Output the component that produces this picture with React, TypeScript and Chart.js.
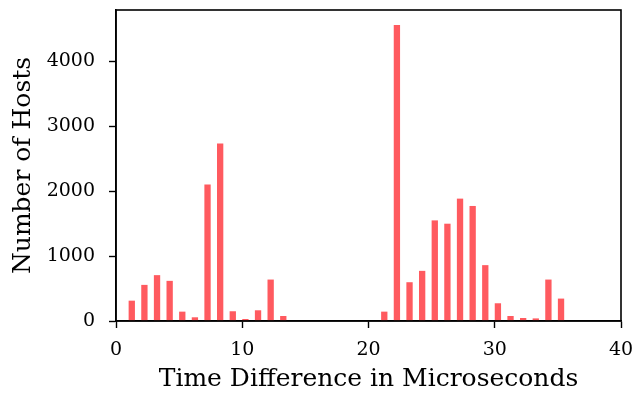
import React, { useEffect, useRef } from "react";
import { Chart, registerables } from "chart.js";

Chart.register(...registerables);

const positions = [1, 2, 3, 4, 5, 6, 7, 8, 9, 10, 11, 12, 13, 21, 22, 23, 24, 25, 26, 27, 28, 29, 30, 31, 32, 33, 34, 35];
const hosts = [313, 556, 706, 618, 144, 57, 2100, 2734, 150, 31, 165, 638, 77, 144, 4556, 597, 772, 1549, 1498, 1884, 1771, 860, 273, 77, 46, 40, 638, 345];
const xTicks = [0, 10, 20, 30, 40];
const yTicks = [0, 1000, 2000, 3000, 4000];

const FONT = "'DejaVu Serif', serif";

const framePlugin = {
  id: "frame",
  afterDraw(chart: any) {
    const { ctx, chartArea } = chart;
    ctx.save();
    ctx.strokeStyle = "#000";
    ctx.lineWidth = 1.6;
    ctx.strokeRect(chartArea.left, chartArea.top, chartArea.right - chartArea.left, chartArea.bottom - chartArea.top);
    ctx.restore();
  },
};

export default function App() {
  const ref = useRef<HTMLCanvasElement>(null);
  useEffect(() => {
    document.body.style.margin = "0";
    const chart = new Chart(ref.current!, {
      type: "bar",
      data: {
        datasets: [
          {
            data: positions.map((p, i) => ({ x: p + 0.25, y: hosts[i] })),
            backgroundColor: "#ff5a5f",
            barPercentage: 0.5,
            categoryPercentage: 1,
          },
        ],
      },
      options: {
        responsive: false,
        animation: false,
        layout: { padding: { top: 10, right: 23, left: 0, bottom: 0 } },
        plugins: { legend: { display: false }, tooltip: { enabled: false } },
        scales: {
          x: {
            type: "linear",
            min: 0,
            max: 40,
            offset: false,
            afterBuildTicks: (s: any) => {
              s.ticks = xTicks.map((v) => ({ value: v }));
            },
            afterFit: (s: any) => {
              s.height = 75;
              s.paddingLeft = 0;
              s.paddingRight = 0;
            },
            grid: { offset: false, drawOnChartArea: false, tickLength: 7, tickColor: "#000", tickWidth: 1.4 },
            border: { color: "#000", width: 1.6 },
            ticks: { color: "#000", font: { family: FONT, size: 19 }, padding: 11, maxRotation: 0, callback: (v: any) => String(v) },
            title: { display: true, text: "Time Difference in Microseconds", color: "#000", font: { family: FONT, size: 25 }, padding: { top: 0, bottom: 2 } },
          },
          y: {
            min: 0,
            max: 4788,
            afterBuildTicks: (s: any) => {
              s.ticks = yTicks.map((v) => ({ value: v }));
            },
            afterFit: (s: any) => {
              s.width = 116;
              s.paddingTop = 0;
              s.paddingBottom = 0;
            },
            grid: { drawOnChartArea: false, tickLength: 7, tickColor: "#000", tickWidth: 1.4 },
            border: { color: "#000", width: 1.6 },
            ticks: { color: "#000", font: { family: FONT, size: 19 }, padding: 14, callback: (v: any) => String(v) },
            title: { display: true, text: "Number of Hosts", color: "#000", font: { family: FONT, size: 25 }, padding: { top: 8, bottom: 4 } },
          },
        },
      },
      plugins: [framePlugin],
    });
    return () => chart.destroy();
  }, []);
  return (
    <div style={{ width: 644, height: 396 }}>
      <canvas ref={ref} width={644} height={396} />
    </div>
  );
}
